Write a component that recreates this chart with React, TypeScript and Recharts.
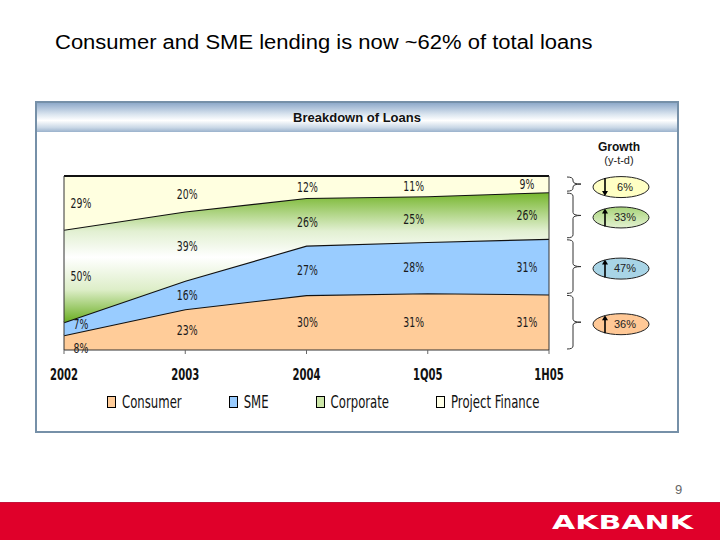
import { AreaChart, Area, XAxis, YAxis, ReferenceLine } from 'recharts';

const periods = ['2002', '2003', '2004', '1Q05', '1H05'];
const consumer = [8, 23, 30, 31, 31];
const sme = [7, 16, 27, 28, 31];
const corporate = [50, 39, 26, 25, 26];
const projectFinance = [29, 20, 12, 11, 9];
const growth = ['36%', '47%', '33%', '6%'];
const growthUp = [true, true, true, false];

const NARROW = '"Liberation Sans Narrow", "DejaVu Sans Condensed", "Arial Narrow", "Liberation Sans", sans-serif';

const series = [
  { key: 'consumer', name: 'Consumer', values: consumer, fill: '#FFCC99', ellipse: '#FFC896' },
  { key: 'sme', name: 'SME', values: sme, fill: '#99CCFF', ellipse: '#A8D4E6' },
  { key: 'corporate', name: 'Corporate', values: corporate, fill: 'url(#corpGrad)', ellipse: 'url(#ellGreen)' },
  { key: 'projectFinance', name: 'Project Finance', values: projectFinance, fill: '#FFFFE0', ellipse: '#FFFFC4' },
];

const legendSwatch = ['#FFCC99', '#99CCFF', '#CCE6A8', '#FFFFE8'];

const data = periods.map((p, i) => ({
  period: p,
  consumer: consumer[i],
  sme: sme[i],
  corporate: corporate[i],
  projectFinance: projectFinance[i],
}));

// chart geometry (page coords)
const CHART_LEFT = 36;
const CHART_TOP = 160;
const M = { top: 16, right: 27, left: 28, bottom: 0 };
const CHART_W = 540;
const PLOT_H = 174;
const PLOT_W = CHART_W - M.left - M.right;

// fraction of total at lower/upper edge of a band
const bandEdges = (si: number, i: number) => {
  const total = series.reduce((s, d) => s + d.values[i], 0);
  let lo = 0;
  for (let k = 0; k < si; k++) lo += series[k].values[i];
  const hi = lo + series[si].values[i];
  return [lo / total, hi / total];
};

const labelDx = [17, 2, 1, -14, -22];

const makeLabel = (si: number) => (props: any) => {
  const { index } = props;
  if (index == null) return null;
  const [lo, hi] = bandEdges(si, index);
  const x = (props.x ?? M.left + (index * PLOT_W) / (periods.length - 1)) + labelDx[index];
  let y = M.top + PLOT_H * (1 - (lo + hi) / 2);
  if (index === 0 && si === 0) y += 5;
  if (index === 0 && si === 1) y -= 5;
  return (
    <text key={`l-${si}-${index}`} transform={`translate(${x},${y}) scale(0.8,1.08)`} dy="0.35em" textAnchor="middle" fontSize={13} fontFamily={NARROW} fill="#1a1a1a">
      {series[si].values[index]}%
    </text>
  );
};

const AxisTick = (props: any) => {
  const { x, y, payload } = props;
  return (
    <text transform={`translate(${x},${y + 24}) scale(0.8,1.1)`} textAnchor="middle" fontSize={14} fontWeight="bold" fontFamily={NARROW} fill="#111">
      {payload.value}
    </text>
  );
};

function Braces() {
  const last = periods.length - 1;
  const top = CHART_TOP + M.top;
  const x0 = 567;
  const x1 = 573;
  const x2 = 581;
  return (
    <svg width={720} height={540} style={{ position: 'absolute', left: 0, top: 0, pointerEvents: 'none' }}>
      <defs>
        <linearGradient id="ellGreen" x1="0" y1="0" x2="0" y2="1">
          <stop offset="0%" stopColor="#A8D47A" />
          <stop offset="100%" stopColor="#E4F2D2" />
        </linearGradient>
      </defs>
      <text x={619} y={151} textAnchor="middle" fontSize={12} fontWeight="bold" fontFamily="Liberation Sans, Arial, sans-serif" fill="#111">Growth</text>
      <text x={619} y={164} textAnchor="middle" fontSize={11} fontFamily="Liberation Sans, Arial, sans-serif" fill="#222">(y-t-d)</text>
      {series.map((s, si) => {
        const [lo, hi] = bandEdges(si, last);
        const y1 = top + PLOT_H * (1 - hi) + 1;
        const y2 = top + PLOT_H * (1 - lo) - 1;
        const ym = (y1 + y2) / 2;
        const d = `M${x0},${y1} Q${x1},${y1} ${x1},${y1 + 3} L${x1},${ym - 3} Q${x1},${ym} ${x2},${ym} Q${x1},${ym} ${x1},${ym + 3} L${x1},${y2 - 3} Q${x1},${y2} ${x0},${y2}`;
        const cy = si === 3 ? ym + 3 : ym + 2;
        const cx = 621;
        const ax = 605;
        const up = growthUp[si];
        const a1 = cy - 9;
        const a2 = cy + 9;
        return (
          <g key={s.key}>
            <path d={d} fill="none" stroke="#333" strokeWidth={1} />
            <ellipse cx={cx} cy={cy} rx={28} ry={10.5} fill={s.ellipse} stroke="#222" strokeWidth={1} />
            <line x1={ax} y1={up ? a1 + 4 : a1} x2={ax} y2={up ? a2 : a2 - 4} stroke="#000" strokeWidth={1.6} />
            {up ? (
              <path d={`M${ax - 3},${a1 + 5} L${ax},${a1} L${ax + 3},${a1 + 5} Z`} fill="#000" />
            ) : (
              <path d={`M${ax - 3},${a2 - 5} L${ax},${a2} L${ax + 3},${a2 - 5} Z`} fill="#000" />
            )}
            <text x={cx + 4} y={cy} dy="0.35em" textAnchor="middle" fontSize={11} fontFamily="Liberation Sans, Arial, sans-serif" fill="#222">
              {growth[si]}
            </text>
          </g>
        );
      })}
    </svg>
  );
}

export default function App() {
  return (
    <div style={{ position: 'absolute', left: 0, top: 0, width: 720, height: 540, background: '#fff', overflow: 'hidden', fontFamily: 'Liberation Sans, Arial, sans-serif' }}>
      <div style={{ position: 'absolute', left: 55, top: 31, fontSize: 20, color: '#000', whiteSpace: 'nowrap', transform: 'scaleX(1.1)', transformOrigin: 'left top' }}>
        Consumer and SME lending is now ~62% of total loans
      </div>

      <div style={{ position: 'absolute', left: 35, top: 101, width: 644, height: 332, border: '2px solid #7690A8', boxSizing: 'border-box', background: '#fff' }}>
        <div style={{ height: 29, background: 'linear-gradient(to bottom, #8FAACA 0%, #DCE6F0 40%, #FFFFFF 60%, #C9D7E6 85%, #9AB2CC 100%)', textAlign: 'center', fontSize: 13, fontWeight: 'bold', lineHeight: '29px', color: '#111' }}>
          Breakdown of Loans
        </div>
      </div>

      <div style={{ position: 'absolute', left: CHART_LEFT, top: CHART_TOP }}>
        <AreaChart width={CHART_W} height={225} data={data} stackOffset="expand" margin={M}>
          <defs>
            <linearGradient id="corpGrad" x1="0" y1="0" x2="0" y2="1">
              <stop offset="0%" stopColor="#74B52A" />
              <stop offset="30%" stopColor="#E2F0D2" />
              <stop offset="50%" stopColor="#FFFFFF" />
              <stop offset="75%" stopColor="#DDEEC8" />
              <stop offset="100%" stopColor="#6AAE22" />
            </linearGradient>
          </defs>
          <XAxis
            dataKey="period"
            interval={0}
            height={35}
            tickSize={4}
            axisLine={{ stroke: '#333' }}
            tickLine={{ stroke: '#666' }}
            tick={<AxisTick />}
          />
          <YAxis hide domain={[0, 1]} />
          {series.map((s, si) => (
            <Area
              key={s.key}
              type="linear"
              dataKey={s.key}
              name={s.name}
              stackId="loans"
              fill={s.fill}
              fillOpacity={1}
              stroke="#111"
              strokeWidth={2.2}
              label={makeLabel(si)}
              isAnimationActive={false}
            />
          ))}
          <ReferenceLine x="2002" stroke="#333" strokeWidth={1} />
          <ReferenceLine x="1H05" stroke="#333" strokeWidth={1} />
        </AreaChart>
      </div>

      <Braces />

      <div style={{ position: 'absolute', left: 107, top: 394, display: 'flex', gap: 47, alignItems: 'center' }}>
        {series.map((s, si) => (
          <div key={s.key} style={{ display: 'flex', alignItems: 'center' }}>
            <span style={{ width: 7, height: 10, border: '1px solid #000', background: legendSwatch[si], display: 'inline-block', marginRight: 6 }} />
            <span style={{ fontSize: 13, fontFamily: NARROW, color: '#111', transform: 'scaleY(1.4)', display: 'inline-block' }}>{s.name}</span>
          </div>
        ))}
      </div>

      <div style={{ position: 'absolute', left: 675, top: 482, fontSize: 13, color: '#666' }}>9</div>

      <div style={{ position: 'absolute', left: 0, top: 502, width: 720, height: 38, background: '#E0002A', borderTop: '1px solid #C4123A' }}>
        <svg width={720} height={38} style={{ position: 'absolute', left: 0, top: 0 }}>
          <text x={552} y={26} textLength={141} lengthAdjust="spacingAndGlyphs" fontSize={20} fontWeight="bold" fontFamily="DejaVu Sans, Liberation Sans, sans-serif" fill="#fff">
            AKBANK
          </text>
        </svg>
      </div>
    </div>
  );
}
